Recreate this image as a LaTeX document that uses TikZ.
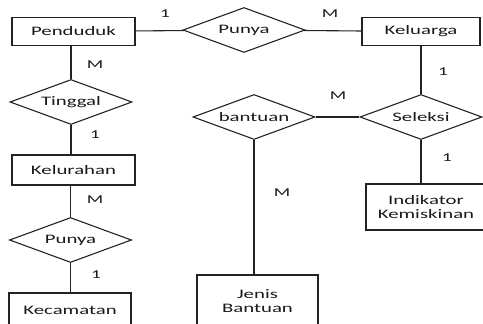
\documentclass[tikz,border=0pt]{standalone}
\usepackage{fontspec}
\setmainfont{Carlito}[FakeStretch=1.6]
\usetikzlibrary{shapes.geometric}
\definecolor{line_gray}{RGB}{35,35,35}
\definecolor{text_dark}{RGB}{25,25,30}

\begin{document}
\begin{tikzpicture}[-,x=1pt,y=-1pt,line width=1.1pt]
    \tikzstyle{entity}=[draw=line_gray, rectangle, inner sep=0pt, align=center, text=text_dark, font=\fontsize{13}{13.5}\selectfont]
    \tikzstyle{relation}=[draw=line_gray, diamond, shape aspect=2.7, inner sep=0pt, minimum width=122pt, minimum height=45pt, text=text_dark, font=\fontsize{13}{13.5}\selectfont]
    \tikzstyle{card}=[inner sep=0pt, text=text_dark, font=\fontsize{12}{12}\selectfont]

    \clip (0,0) rectangle (483,324);

    % entities
    \node[entity, minimum width=123pt, minimum height=28pt] (penduduk)  at (73.5,31.5) {Penduduk};
    \node[entity, minimum width=118pt, minimum height=28pt] (keluarga)  at (421,31.5)  {Keluarga};
    \node[entity, minimum width=123pt, minimum height=30pt] (kelurahan) at (73.5,170)  {Kelurahan};
    \node[entity, minimum width=122pt, minimum height=34pt] (kecamatan) at (70,310)    {Kecamatan};
    \node[entity, minimum width=120pt, minimum height=46pt] (indikator) at (426,207)   {Indikator\\Kemiskinan};
    \node[entity, minimum width=121pt, minimum height=52pt] (jenis)     at (257.5,301) {Jenis\\Bantuan};

    % relations
    \node[relation] (punyaA)  at (244,30)  {Punya};
    \node[relation] (tinggal) at (71,102)  {Tinggal};
    \node[relation] (punyaB)  at (70.5,240) {Punya};
    \node[relation] (bantuan) at (254,117) {bantuan};
    \node[relation] (seleksi) at (421,117) {Seleksi};

    % cardinalities
    \node[card] (c1)  at (165,14)  {1};
    \node[card] (c2)  at (330,14)  {M};
    \node[card] (c3)  at (95,65)   {M};
    \node[card] (c4)  at (95,135)  {1};
    \node[card] (c5)  at (95,200)  {M};
    \node[card] (c6)  at (96,275)  {1};
    \node[card] (c7)  at (338,96)  {M};
    \node[card] (c8)  at (443,72)  {1};
    \node[card] (c9)  at (447,158) {1};
    \node[card] (c10) at (282,193) {M};

    \path[draw=line_gray]
     (penduduk) edge (punyaA)
     (punyaA) edge (keluarga)
     (penduduk.south -| tinggal.north) edge (tinggal.north)
     (tinggal.south) edge (tinggal.south |- kelurahan.north)
     (kelurahan.south -| punyaB.north) edge (punyaB.north)
     (punyaB.south) edge (punyaB.south |- kecamatan.north)
     (keluarga.south -| seleksi.north) edge (seleksi.north)
     (bantuan) edge (seleksi)
     (seleksi.south) edge (seleksi.south |- indikator.north)
     (bantuan.south) edge (bantuan.south |- jenis.north)
     ;
\end{tikzpicture}
\end{document}
